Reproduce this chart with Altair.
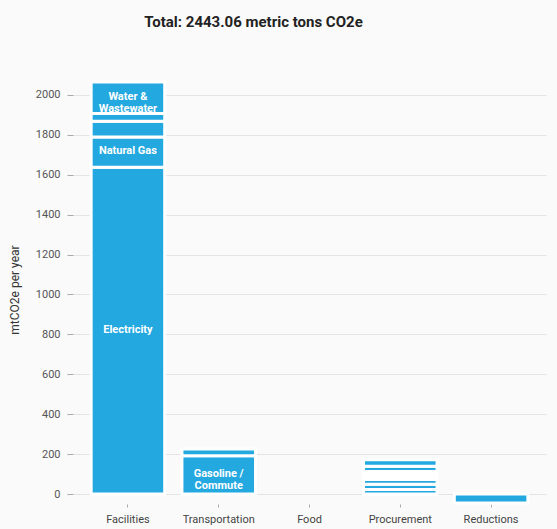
import altair as alt
import pandas as pd

# Emission categories along the x axis
categories = ["Facilities", "Transportation", "Food", "Procurement", "Reductions"]

# Stacked emission sources (mtCO2e per year), bottom to top within each category
seg_category = [
    "Facilities", "Facilities", "Facilities", "Facilities", "Facilities",
    "Transportation", "Transportation",
    "Procurement", "Procurement", "Procurement", "Procurement",
    "Procurement", "Procurement", "Procurement", "Procurement",
    "Reductions",
]
seg_source = [
    "Electricity", "Natural Gas", "Propane", "Fuel Oil", "Water & Wastewater",
    "Gasoline / Commute", "Air Travel",
    "Paper", "Office Supplies", "Electronics", "Furniture",
    "Cleaning Supplies", "Printing", "Packaging", "Other Purchases",
    "Offsets",
]
seg_value = [
    1637.5, 151.3, 79.5, 39.0, 157.3,
    192.0, 34.0,
    22.6, 25.8, 24.3, 13.0, 14.0, 13.0, 26.6, 31.9,
    -45.0,
]
# In-bar labels (empty where the segment is left unlabeled)
seg_label = [
    "Electricity", "Natural Gas", "", "", "Water &\nWastewater",
    "Gasoline /\nCommute", "",
    "", "", "", "", "", "", "", "",
    "",
]

y_ticks = [0, 200, 400, 600, 800, 1000, 1200, 1400, 1600, 1800, 2000]
title_text = "Total: 2443.06 metric tons CO2e"

df = pd.DataFrame({
    "category": seg_category,
    "source": seg_source,
    "value": seg_value,
    "label": seg_label,
    "order": list(range(len(seg_value))),
})

BAR = "#23a8e0"
BG = "#fafafa"
FONT = "Roboto"

x_scale = alt.Scale(domain=categories, paddingInner=0.19, paddingOuter=0.2)

x_enc = alt.X(
    "category:N",
    scale=x_scale,
    axis=alt.Axis(
        title=None, labelAngle=0, domain=False, grid=False,
        ticks=True, tickSize=3, tickColor="#aaaaaa",
        labelPadding=6, labelFont=FONT, labelFontSize=11, labelColor="#444444",
    ),
)

base = alt.Chart(df).transform_stack(
    stack="value",
    as_=["y0", "y1"],
    groupby=["category"],
    sort=[alt.SortField("order", order="ascending")],
)

bars = base.mark_bar(color=BAR, stroke="white", strokeWidth=3).encode(
    x=x_enc,
    y=alt.Y(
        "y0:Q",
        scale=alt.Scale(domain=[-50, 2100], nice=False),
        axis=alt.Axis(
            values=y_ticks, format="d", title="mtCO2e per year", grid=True,
            gridColor="#e4e4e4", gridWidth=1, domain=False,
            ticks=True, tickSize=6, tickColor="#aaaaaa",
            labelPadding=7, labelFont=FONT, labelFontSize=11, labelColor="#555555",
            titleFont=FONT, titleFontSize=12, titleFontWeight="normal",
            titleColor="#333333", titlePadding=14,
        ),
    ),
    y2="y1:Q",
)

labels = base.transform_filter(
    alt.datum.label != ""
).transform_calculate(
    mid="(datum.y0 + datum.y1) / 2"
).mark_text(
    color="white", font=FONT, fontSize=11, fontWeight="bold",
    lineBreak="\n", lineHeight=12, baseline="middle", align="center", dy=-1,
).encode(
    x=alt.X("category:N", scale=x_scale),
    y=alt.Y("mid:Q"),
    text="label:N",
)

chart = alt.layer(bars, labels).properties(
    width=473,
    height=429,
    title=alt.TitleParams(
        title_text, font=FONT, fontSize=15, fontWeight="bold",
        color="#222222", anchor="middle", dx=-56, offset=45,
    ),
    autosize=alt.AutoSizeParams(type="none"),
    padding={"left": 73, "top": 75, "right": 11, "bottom": 25},
    background=BG,
).configure_view(stroke=None)

chart.save("out.html", embed_options={"renderer": "svg", "actions": False})
